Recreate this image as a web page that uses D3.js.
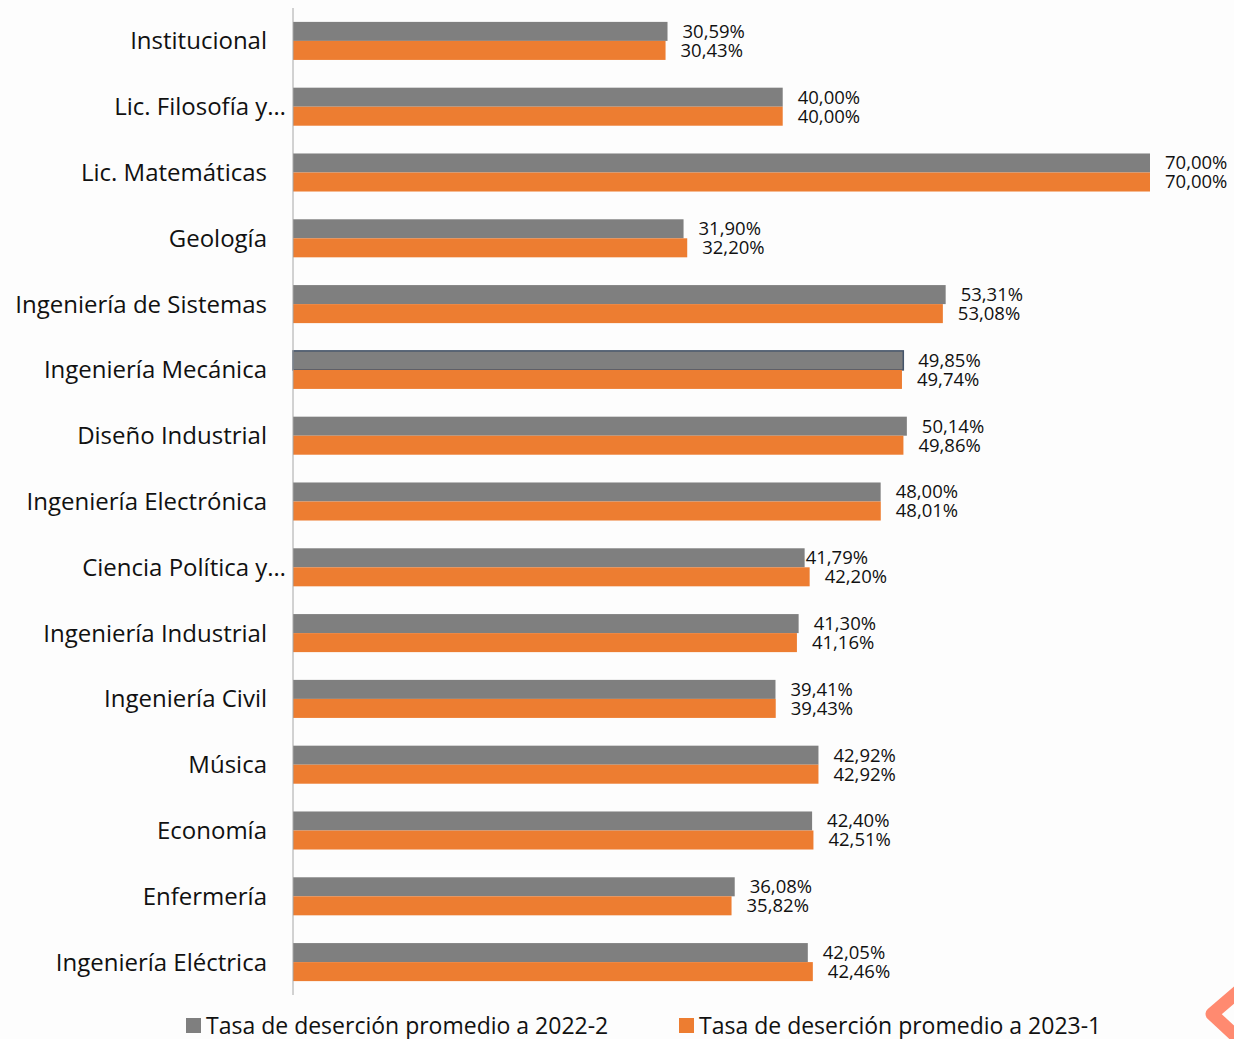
<!DOCTYPE html>
<html>
<head>
<meta charset="utf-8">
<script src="https://cdn.jsdelivr.net/npm/d3@7"></script>
<style>
  body { margin: 0; background: #fdfdfd; }
  svg { display: block; font-family: "Open Sans", sans-serif; }
</style>
</head>
<body>
<div id="container"><svg></svg></div>
<script>
let width = 1234;
let height = 1039;

// categorias y series
let categories = [
    'Institucional', 'Lic. Filosofía y…', 'Lic. Matemáticas', 'Geología',
    'Ingeniería de Sistemas', 'Ingeniería Mecánica', 'Diseño Industrial',
    'Ingeniería Electrónica', 'Ciencia Política y…', 'Ingeniería Industrial',
    'Ingeniería Civil', 'Música', 'Economía', 'Enfermería', 'Ingeniería Eléctrica'
];
let tasa_2022_2 = [30.59, 40.00, 70.00, 31.90, 53.31, 49.85, 50.14, 48.00, 41.79, 41.30, 39.41, 42.92, 42.40, 36.08, 42.05];
let tasa_2023_1 = [30.43, 40.00, 70.00, 32.20, 53.08, 49.74, 49.86, 48.01, 42.20, 41.16, 39.43, 42.92, 42.51, 35.82, 42.46];
let series_names = ['Tasa de deserción promedio a 2022-2', 'Tasa de deserción promedio a 2023-1'];
let series_colors = ['#7f7f7f', '#ed7d31'];

let svg = d3.select('svg').attr('width', width).attr('height', height);

let x = d3.scaleLinear().domain([0, 70]).range([293, 1150]);
let y = d3.scaleBand().domain(categories).range([8, 995]).paddingInner(0.422).paddingOuter(0.211);
let ySub = d3.scaleBand().domain([0, 1]).range([0, y.bandwidth()]);

let fmt = v => d3.format('.2f')(v).replace('.', ',') + '%';

let rows = categories.map((c, i) => ({cat: c, vals: [tasa_2022_2[i], tasa_2023_1[i]]}));

// barras
let groups = svg.append('g')
    .selectAll('g')
    .data(rows)
    .join('g')
    .attr('transform', d => `translate(0, ${y(d.cat)})`);

groups.selectAll('rect')
    .data(d => d.vals.map((v, s) => ({v, s, cat: d.cat})))
    .join('rect')
    .attr('x', x(0))
    .attr('y', d => ySub(d.s))
    .attr('width', d => x(d.v) - x(0))
    .attr('height', ySub.bandwidth())
    .attr('fill', d => series_colors[d.s])
    .attr('stroke', d => (d.cat === 'Ingeniería Mecánica' && d.s === 0) ? '#44546a' : 'none')
    .attr('stroke-width', 1.5);

// etiquetas de valor
groups.selectAll('text.val')
    .data(d => d.vals.map((v, s) => ({v, s, cat: d.cat})))
    .join('text')
    .attr('class', 'val')
    .attr('x', d => x(d.v) + ((d.cat === 'Ciencia Política y…' && d.s === 0) ? 1 : 15))
    .attr('y', d => ySub(d.s) + ySub.bandwidth() / 2)
    .attr('dy', '0.35em')
    .attr('font-size', 18.5)
    .attr('fill', '#111')
    .text(d => fmt(d.v));

// eje vertical
svg.append('line')
    .attr('x1', x(0)).attr('x2', x(0))
    .attr('y1', 8).attr('y2', 995)
    .attr('stroke', '#a6a6a6')
    .attr('stroke-width', 1);

// etiquetas de categoria (las truncadas sobresalen un poco)
svg.append('g')
    .selectAll('text')
    .data(categories)
    .join('text')
    .attr('x', d => d.endsWith('…') ? 286 : 267)
    .attr('y', d => y(d) + y.bandwidth() / 2)
    .attr('dy', '0.35em')
    .attr('text-anchor', 'end')
    .attr('font-size', 24)
    .attr('fill', '#111')
    .text(d => d);

// leyenda
let legend_x = [186, 679];
let legend = svg.append('g')
    .selectAll('g')
    .data(series_names)
    .join('g')
    .attr('transform', (d, i) => `translate(${legend_x[i]}, 1026)`);
legend.append('rect')
    .attr('x', 0).attr('y', -8)
    .attr('width', 15).attr('height', 15)
    .attr('fill', (d, i) => series_colors[i]);
legend.append('text')
    .attr('x', 20)
    .attr('dy', '0.35em')
    .attr('font-size', 23)
    .attr('fill', '#111')
    .text(d => d);

// adorno esquina
svg.append('path')
    .attr('d', 'M1240,990 L1212,1014 L1240,1040')
    .attr('fill', 'none')
    .attr('stroke', '#ff8a70')
    .attr('stroke-width', 13)
    .attr('stroke-linejoin', 'round')
    .attr('stroke-linecap', 'round');
</script>
</body>
</html>
